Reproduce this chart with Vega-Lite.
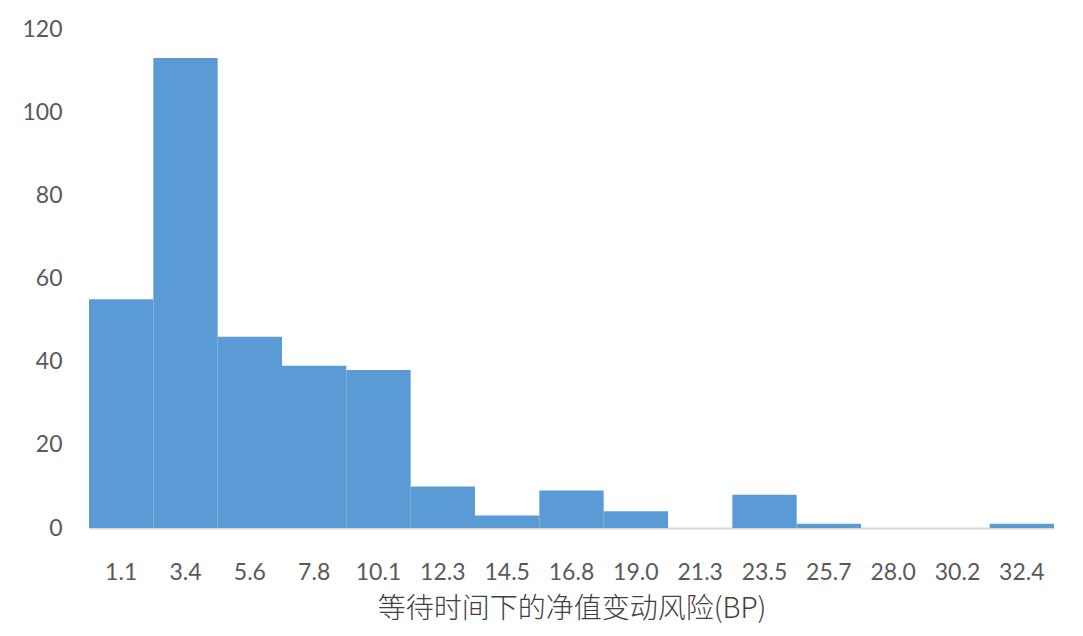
{
  "$schema": "https://vega.github.io/schema/vega-lite/v6.json",
  "autosize": {"type": "none"},
  "width": 965,
  "height": 499,
  "padding": {"left": 89, "top": 29, "right": 29, "bottom": 108},
  "background": "white",
  "config": {"view": {"stroke": null}},
  "data": {
    "values": [
      {"bin": "1.1", "count": 55},
      {"bin": "3.4", "count": 113},
      {"bin": "5.6", "count": 46},
      {"bin": "7.8", "count": 39},
      {"bin": "10.1", "count": 38},
      {"bin": "12.3", "count": 10},
      {"bin": "14.5", "count": 3},
      {"bin": "16.8", "count": 9},
      {"bin": "19.0", "count": 4},
      {"bin": "21.3", "count": 0},
      {"bin": "23.5", "count": 8},
      {"bin": "25.7", "count": 1},
      {"bin": "28.0", "count": 0},
      {"bin": "30.2", "count": 0},
      {"bin": "32.4", "count": 1}
    ]
  },
  "mark": {"type": "bar", "color": "#5B9BD5"},
  "encoding": {
    "x": {
      "field": "bin",
      "type": "ordinal",
      "sort": null,
      "scale": {"paddingInner": 0, "paddingOuter": 0},
      "axis": {
        "title": "等待时间下的净值变动风险(BP)",
        "titleFont": "Noto Sans CJK SC",
        "titleFontSize": 28,
        "titleFontWeight": 300,
        "titleColor": "#404040",
        "titlePadding": 11,
        "labelAngle": 0,
        "labelFont": "Lato",
        "labelFontSize": 23,
        "labelColor": "#595959",
        "labelPadding": 33,
        "ticks": false,
        "domainColor": "#D9D9D9",
        "domainWidth": 2
      }
    },
    "y": {
      "field": "count",
      "type": "quantitative",
      "scale": {"domain": [0, 120]},
      "axis": {
        "title": null,
        "values": [0, 20, 40, 60, 80, 100, 120],
        "grid": false,
        "domain": false,
        "ticks": false,
        "labelFont": "Lato",
        "labelFontSize": 23,
        "labelColor": "#595959",
        "labelPadding": 27
      }
    }
  }
}
